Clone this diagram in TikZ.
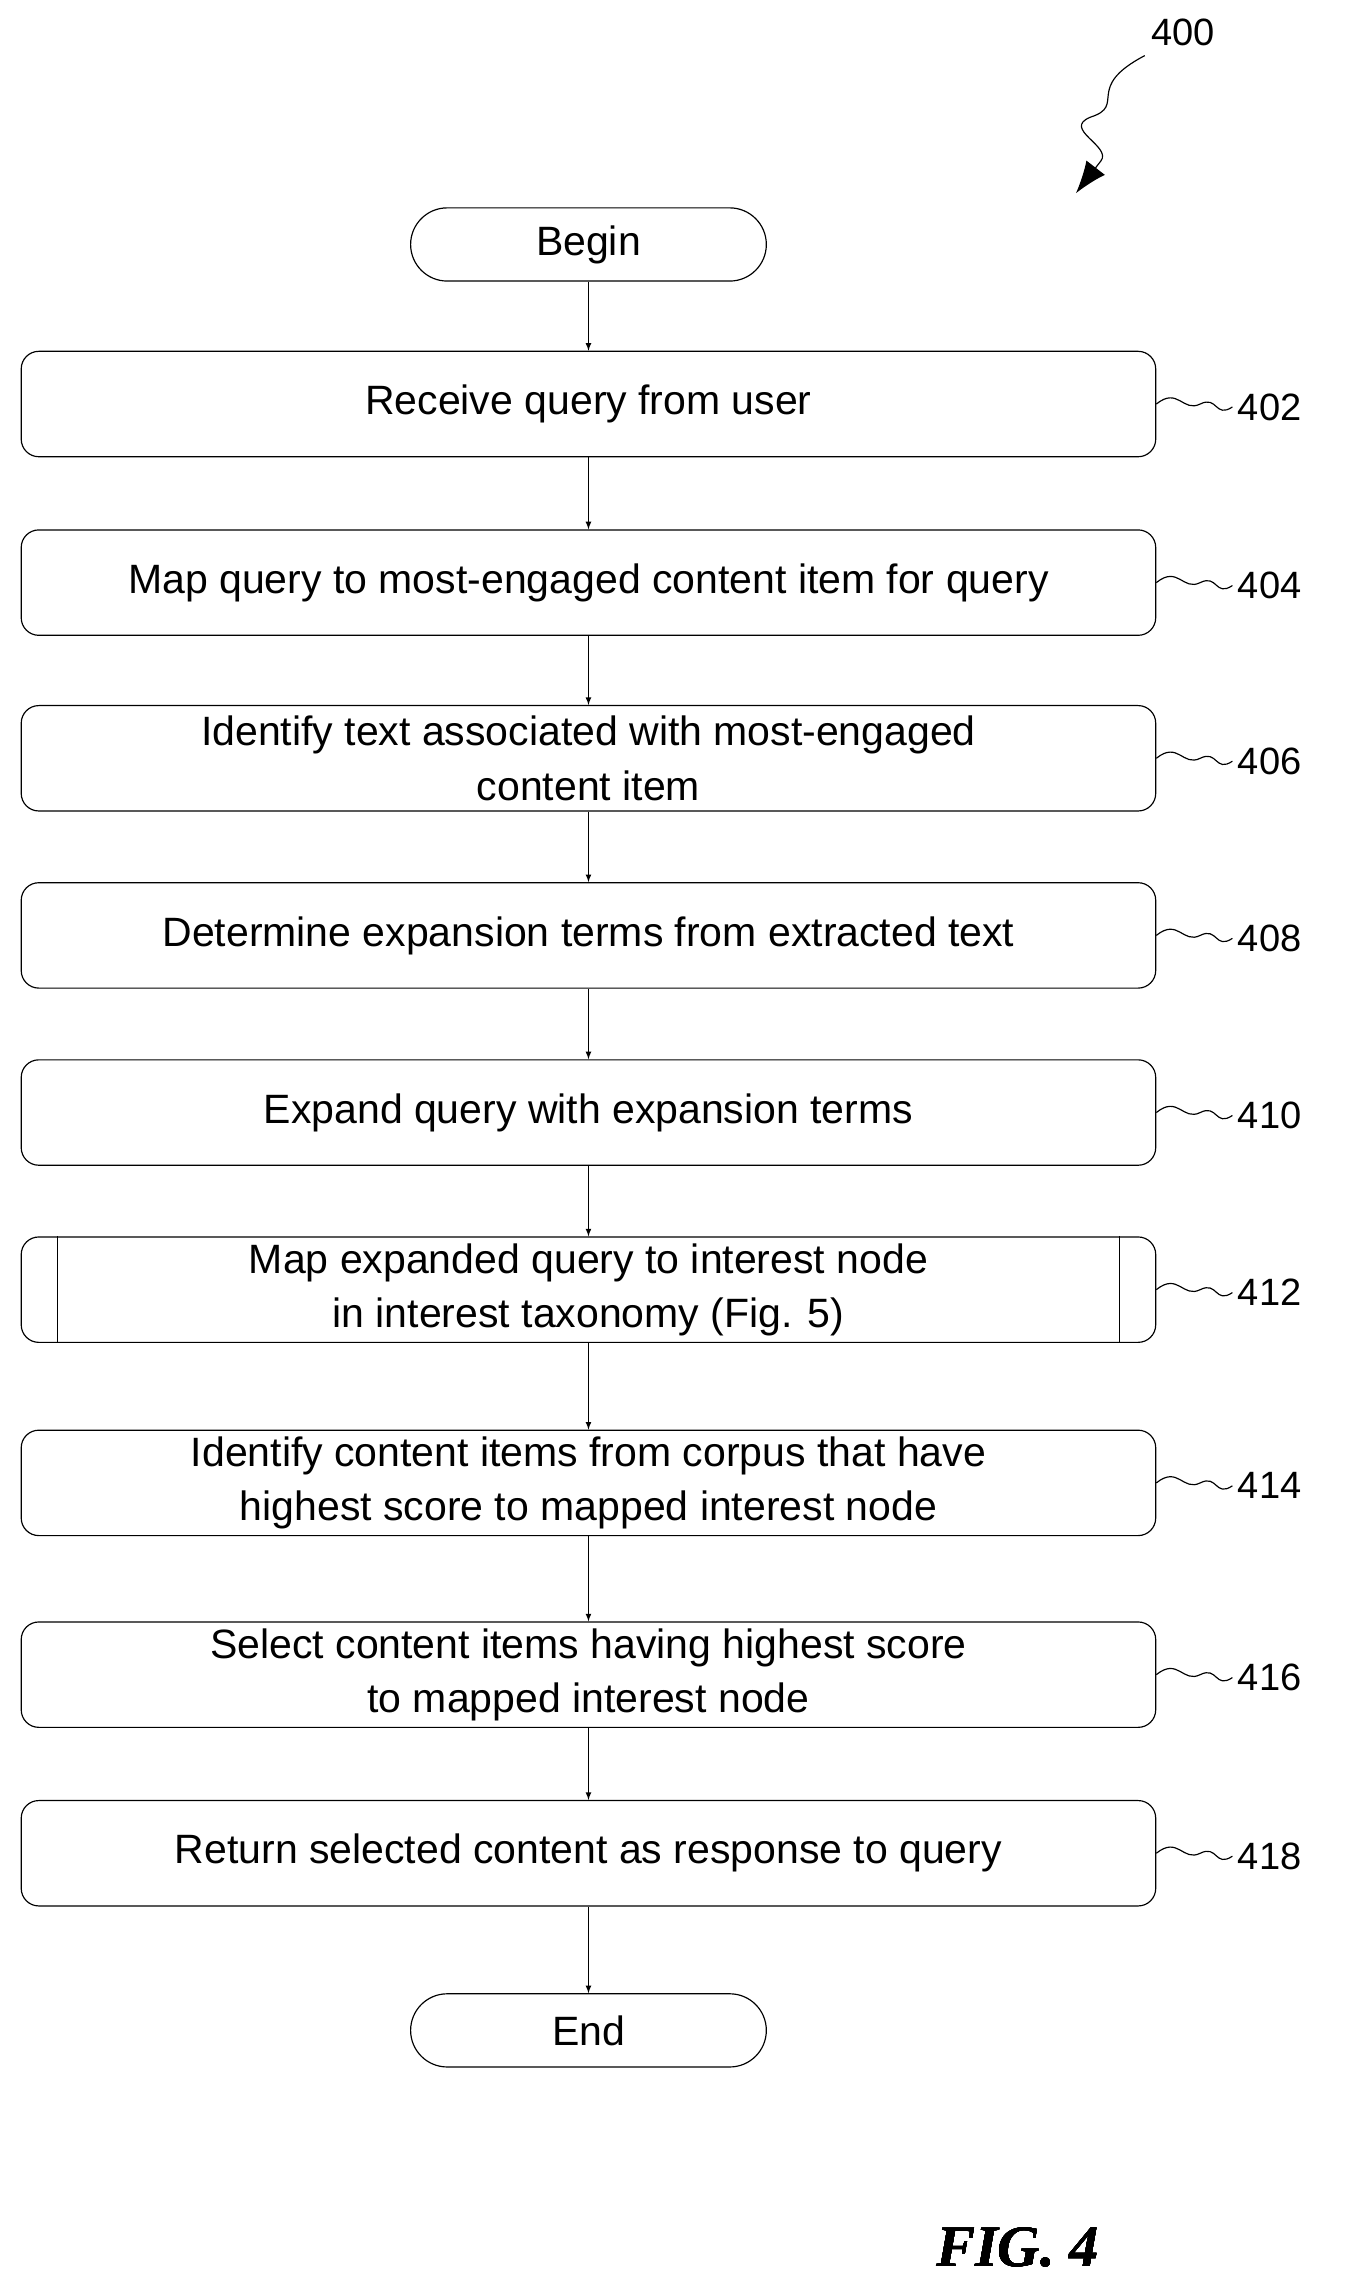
\documentclass[tikz,border=0pt]{standalone}
\usepackage{fontspec}
\setmainfont{Liberation Sans}
\newfontfamily\figfont{Liberation Serif}
\usetikzlibrary{positioning,arrows.meta}
\tikzset{>=latex}
\tikzset{
  stage/.style = {draw, thick, rounded corners=12pt, minimum width=775pt,
    minimum height=72pt, align=center, font=\fontsize{28}{37}\selectfont},
  term/.style = {draw, thick, rounded corners=25pt, minimum width=243pt,
    minimum height=50pt, font=\fontsize{28}{37}\selectfont},
  flow/.style = {->, thick},
  tag/.style = {font=\fontsize{26}{30}\selectfont, anchor=west}
}
\newcommand{\squig}[2]{%
  \draw[thick] (#1.east) .. controls ++(15pt,12pt) and ++(-12pt,-6pt) ..
    ++(30pt,0pt) .. controls ++(12pt,6pt) and ++(-12pt,-8pt) .. ++(22pt,-2pt)
    node[tag] {#2};}

\begin{document}
\begin{tikzpicture}[x=1pt,y=-1pt]
  \useasboundingbox (0,0) rectangle (930,1563);
  % label of the figure
  \node[font=\fontsize{26}{30}\selectfont] (fignum) at (808,22) {400};
  \coordinate (tip) at (735,132);
  \draw[thick] (782,38) .. controls (740,60) and (770,72) .. (745,80)
    .. controls (725,88) and (760,100) .. (752,110);
  \draw[-{Latex[length=22pt,width=16pt]},thick] (752,110) -- (tip);
  % stages
  \node[term] (begin) at (402,167) {Begin};
  \node[stage] (s402) at (402,276) {Receive query from user};
  \node[stage] (s404) at (402,398) {Map query to most-engaged content item for query};
  \node[stage] (s406) at (402,518) {Identify text associated with most-engaged\\content item};
  \node[stage] (s408) at (402,639) {Determine expansion terms from extracted text};
  \node[stage] (s410) at (402,760) {Expand query with expansion terms};
  \node[stage] (s412) at (402,881) {Map expanded query to interest node\\in interest taxonomy (Fig. 5)};
  \draw[thick] ([xshift=25pt]s412.north west) -- ([xshift=25pt]s412.south west);
  \draw[thick] ([xshift=-25pt]s412.north east) -- ([xshift=-25pt]s412.south east);
  \node[stage] (s414) at (402,1013) {Identify content items from corpus that have\\highest score to mapped interest node};
  \node[stage] (s416) at (402,1144) {Select content items having highest score\\to mapped interest node};
  \node[stage] (s418) at (402,1266) {Return selected content as response to query};
  \node[term] (end) at (402,1387) {End};
  % connectors
  \foreach \a/\b in {begin/s402, s402/s404, s404/s406, s406/s408, s408/s410,
                     s410/s412, s412/s414, s414/s416, s416/s418, s418/end}
    \draw[flow] (\a) -- (\b);
  % reference numbers
  \foreach \n in {402,404,406,408,410,412,414,416,418}
    \squig{s\n}{\n}
  \node[font=\figfont\bfseries\itshape\fontsize{40}{44}\selectfont] (fig) at (695,1535) {FIG. 4};
\end{tikzpicture}
\end{document}
